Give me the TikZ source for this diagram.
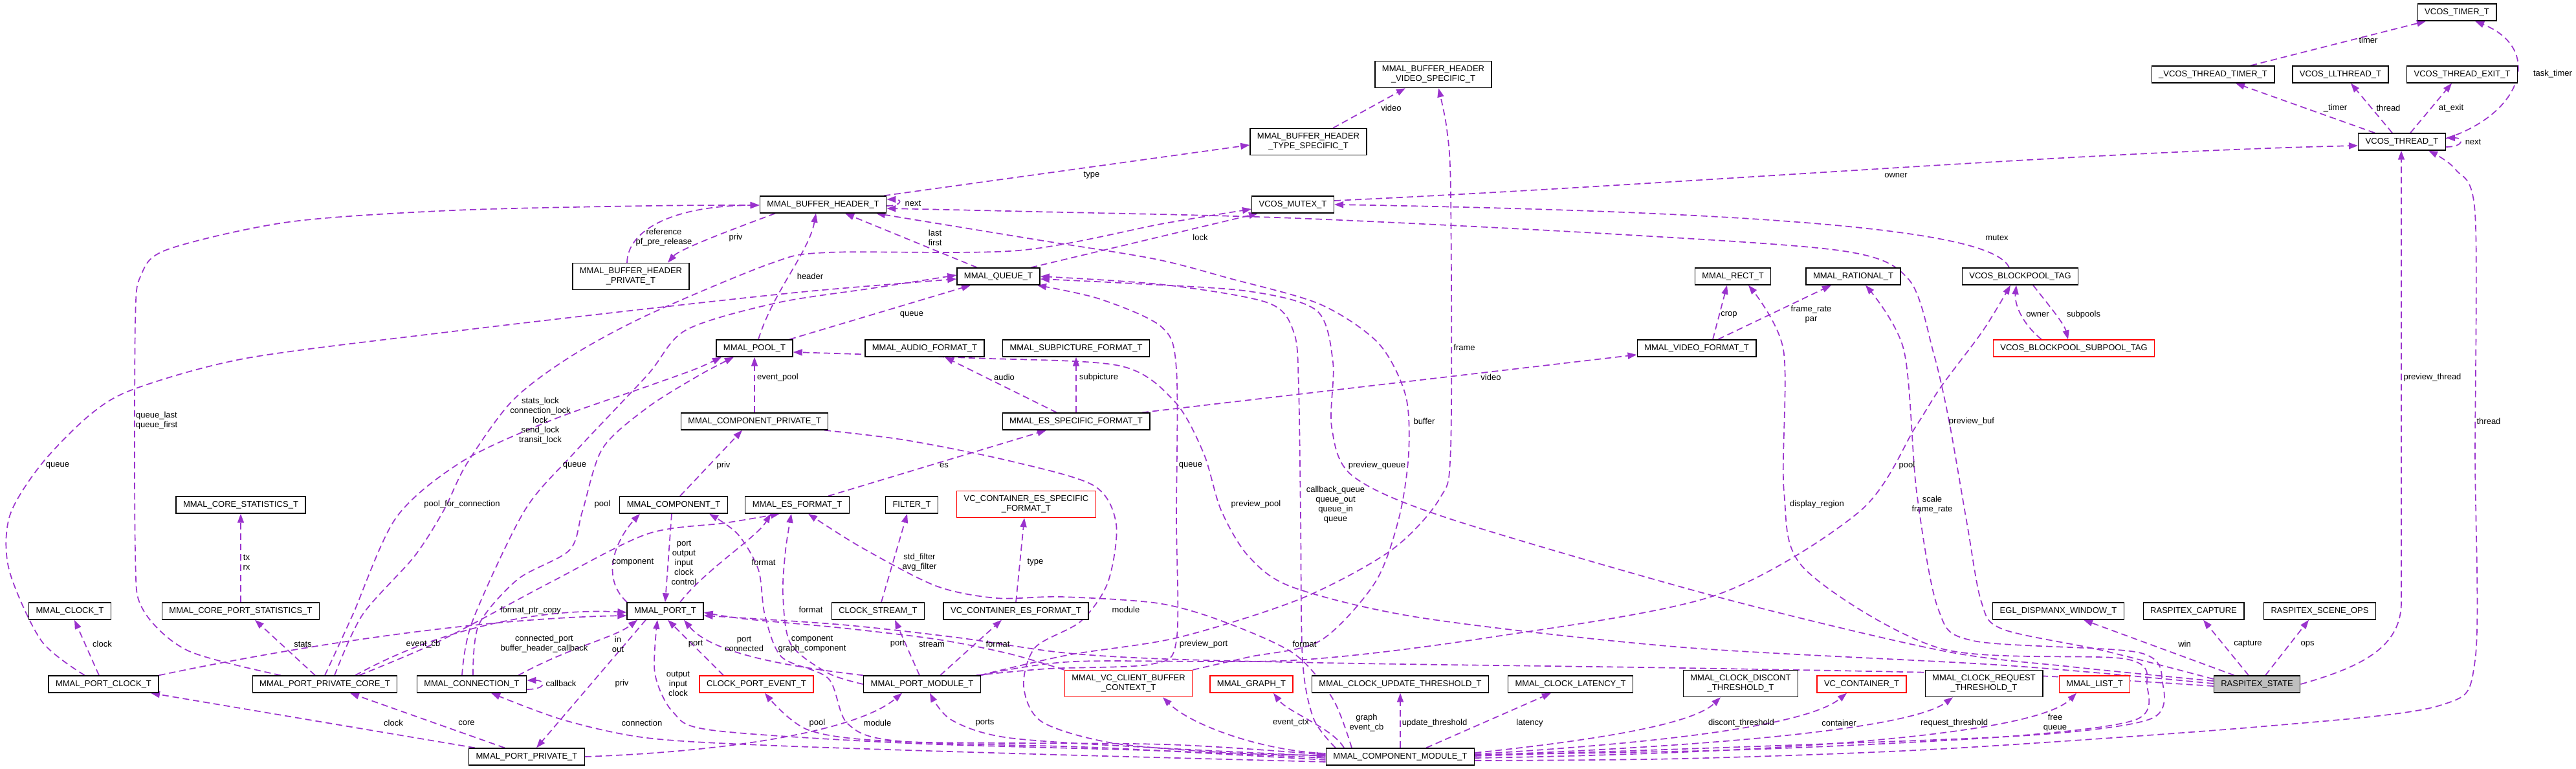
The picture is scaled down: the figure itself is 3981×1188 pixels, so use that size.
\documentclass[tikz,border=0pt]{standalone}
\usepackage{fontspec}
\setmainfont{Liberation Sans}
\usepackage{tikz}
\usetikzlibrary{arrows.meta,backgrounds}
\definecolor{dxpurple}{HTML}{9A32CD}
\definecolor{dxred}{HTML}{FF0000}
\definecolor{dxgrey}{HTML}{BFBFBF}

\begin{document}
\begin{tikzpicture}[x=1pt, y=-1pt, font=\fontsize{13}{15}\selectfont,
  cls/.style={draw=black, line width=1.4pt, fill=white, minimum height=26pt, inner xsep=11pt, inner ysep=2pt},
  cls2/.style={cls, align=center, minimum height=41pt},
  trunc/.style={draw=dxred},
  focus/.style={fill=dxgrey},
  link/.style={draw=dxpurple, line width=1.7pt, dash pattern=on 10pt off 6pt, -{Triangle[length=14pt,width=10pt]}},
  lbl/.style={align=center, inner sep=0pt}]
\useasboundingbox (0,0) rectangle (3981,1188);
% ===== vcos side =====
\node[cls] (vTimer) at (3797,19) {VCOS\_TIMER\_T};
\node[cls] (vThrTimer) at (3420,115) {\_VCOS\_THREAD\_TIMER\_T};
\node[cls] (vLlThr) at (3617,115) {VCOS\_LLTHREAD\_T};
\node[cls] (vThrExit) at (3805,115) {VCOS\_THREAD\_EXIT\_T};
\node[cls] (vThread) at (3712,219) {VCOS\_THREAD\_T};
\node[cls] (vMutex) at (1998,316) {VCOS\_MUTEX\_T};
\node[cls] (vBlk) at (3122,427) {VCOS\_BLOCKPOOL\_TAG};
\node[cls, trunc] (vSub) at (3205,538) {VCOS\_BLOCKPOOL\_SUBPOOL\_TAG};
% ===== buffers, queues =====
\node[cls2] (bhVideo) at (2215,115) {MMAL\_BUFFER\_HEADER\\\_VIDEO\_SPECIFIC\_T};
\node[cls2] (bhType) at (2022,219) {MMAL\_BUFFER\_HEADER\\\_TYPE\_SPECIFIC\_T};
\node[cls] (bh) at (1272,316) {MMAL\_BUFFER\_HEADER\_T};
\node[cls2] (bhPriv) at (975,427) {MMAL\_BUFFER\_HEADER\\\_PRIVATE\_T};
\node[cls] (queue) at (1543,427) {MMAL\_QUEUE\_T};
\node[cls] (rect) at (2678,427) {MMAL\_RECT\_T};
\node[cls] (rational) at (2864,427) {MMAL\_RATIONAL\_T};
% ===== formats =====
\node[cls] (pool) at (1166,538) {MMAL\_POOL\_T};
\node[cls] (audio) at (1429,538) {MMAL\_AUDIO\_FORMAT\_T};
\node[cls] (subpic) at (1663,538) {MMAL\_SUBPICTURE\_FORMAT\_T};
\node[cls] (video) at (2622,538) {MMAL\_VIDEO\_FORMAT\_T};
\node[cls] (compPriv) at (1166,651) {MMAL\_COMPONENT\_PRIVATE\_T};
\node[cls] (esSpec) at (1663,651) {MMAL\_ES\_SPECIFIC\_FORMAT\_T};
\node[cls] (coreStats) at (372,780) {MMAL\_CORE\_STATISTICS\_T};
\node[cls] (comp) at (1041,780) {MMAL\_COMPONENT\_T};
\node[cls] (esFmt) at (1232,780) {MMAL\_ES\_FORMAT\_T};
\node[cls] (filter) at (1409,780) {FILTER\_T};
\node[cls2, trunc] (vcEsSpec) at (1586,779) {VC\_CONTAINER\_ES\_SPECIFIC\\\_FORMAT\_T};
% ===== ports =====
\node[cls] (clock) at (108,944) {MMAL\_CLOCK\_T};
\node[cls] (portStats) at (372,944) {MMAL\_CORE\_PORT\_STATISTICS\_T};
\node[cls] (port) at (1028,944) {MMAL\_PORT\_T};
\node[cls] (clkStream) at (1357,944) {CLOCK\_STREAM\_T};
\node[cls] (vcEsFmt) at (1570,944) {VC\_CONTAINER\_ES\_FORMAT\_T};
\node[cls] (egl) at (3181,944) {EGL\_DISPMANX\_WINDOW\_T};
\node[cls] (capture) at (3390,944) {RASPITEX\_CAPTURE};
\node[cls] (sceneOps) at (3585,944) {RASPITEX\_SCENE\_OPS};
\node[cls] (portClock) at (160,1057) {MMAL\_PORT\_CLOCK\_T};
\node[cls] (portCore) at (502,1057) {MMAL\_PORT\_PRIVATE\_CORE\_T};
\node[cls] (conn) at (729,1057) {MMAL\_CONNECTION\_T};
\node[cls, trunc] (clkEvent) at (1169,1057) {CLOCK\_PORT\_EVENT\_T};
\node[cls] (portMod) at (1425,1057) {MMAL\_PORT\_MODULE\_T};
\node[cls2, trunc] (vcCtx) at (1744,1056) {MMAL\_VC\_CLIENT\_BUFFER\\\_CONTEXT\_T};
\node[cls, trunc] (graph) at (1934,1057) {MMAL\_GRAPH\_T};
\node[cls] (updThr) at (2164,1057) {MMAL\_CLOCK\_UPDATE\_THRESHOLD\_T};
\node[cls] (latency) at (2427,1057) {MMAL\_CLOCK\_LATENCY\_T};
\node[cls2] (discThr) at (2690,1056) {MMAL\_CLOCK\_DISCONT\\\_THRESHOLD\_T};
\node[cls, trunc] (container) at (2877,1057) {VC\_CONTAINER\_T};
\node[cls2] (reqThr) at (3066,1056) {MMAL\_CLOCK\_REQUEST\\\_THRESHOLD\_T};
\node[cls, trunc] (list) at (3237,1057) {MMAL\_LIST\_T};
\node[cls, focus] (state) at (3488,1057) {RASPITEX\_STATE};
\node[cls] (portPriv) at (814,1169) {MMAL\_PORT\_PRIVATE\_T};
\node[cls] (compMod) at (2164,1169) {MMAL\_COMPONENT\_MODULE\_T};

\begin{scope}[on background layer]
% ===== vcos edges =====
\draw[link] ([xshift=58]vThrTimer.north) -- ([xshift=-48]vTimer.south);
\draw[link] ([yshift=5]vThread.east) .. controls (3900,175) and (3930,75) .. ([xshift=28]vTimer.south);
\draw[link] ([xshift=-42]vThread.north) -- ([xshift=35]vThrTimer.south);
\draw[link] ([xshift=-15]vThread.north) -- ([xshift=16]vLlThr.south);
\draw[link] ([xshift=13]vThread.north) -- ([xshift=-16]vThrExit.south);
\draw[link] ([yshift=-8]vThread.east) .. controls +(28,0) and +(28,0) .. ([yshift=6]vThread.east);
\draw[link] ([yshift=6]vMutex.east) .. controls (2600,285) and (3200,235) .. ([yshift=-6]vThread.west);
\draw[link] ([xshift=-17]vBlk.north) .. controls (3085,370) and (2900,330) .. (vMutex.east);
\draw[link] ([xshift=-50]vSub.north) .. controls (3125,500) and (3113,470) .. ([xshift=-6]vBlk.south);
\draw[link] ([xshift=20]vBlk.south) .. controls (3165,470) and (3190,500) .. ([xshift=-9]vSub.north);
\draw[link] (state.east) .. controls (3650,1030) and (3711,1000) .. (3711,930) -- ([xshift=-1]vThread.south);
\draw[link] plot[smooth] coordinates {([yshift=-6]compMod.east) (2600,1172) (3000,1157) (3500,1122) (3770,1090) (3825,1020) (3825,700) (3825,330) (3795,262) ([xshift=41]vThread.south)};

% ===== buffer header edges =====
\draw[link] ([xshift=38]bhType.north) -- ([xshift=-43]bhVideo.south);
\draw[link] ([xshift=94]bh.north) -- ([yshift=-5]bhType.west);
\draw[link] ([yshift=-2]bh.east) .. controls +(24,0) and +(24,0) .. ([yshift=8]bh.east);
\draw[link] ([xshift=-6]bhPriv.north) .. controls (970,355) and (1040,318) .. ([yshift=-1]bh.west);
\draw[link] ([xshift=-74]bh.south) .. controls (1130,355) and (1050,385) .. ([xshift=57]bhPriv.north);
\draw[link] ([xshift=6]pool.north) .. controls (1195,450) and (1250,390) .. ([xshift=-11]bh.south);
\draw[link] ([xshift=-33]queue.north) -- ([xshift=34]bh.south);
\draw[link] ([xshift=50]queue.north) -- ([xshift=-54]vMutex.south);
\draw[link] ([xshift=54]pool.north) -- ([xshift=-43]queue.south);

% ===== format edges =====
\draw[link] (compPriv.north) -- (pool.south);
\draw[link] ([xshift=-30]esSpec.north) -- ([xshift=31]audio.south);
\draw[link] (esSpec.north) -- (subpic.south);
\draw[link] ([xshift=48]esFmt.north) -- ([xshift=-46]esSpec.south);
\draw[link] ([xshift=102]esSpec.north) -- ([yshift=-10]video.west);
\draw[link] ([xshift=25]video.north) -- ([xshift=-9]rect.south);
\draw[link] ([xshift=33]video.north) -- ([xshift=-34]rational.south);
\draw[link] plot[smooth] coordinates {([yshift=3]compMod.east) (2700,1158) (3100,1138) (3300,1112) (3318,1060) (3285,1018) (3000,1002) (2790,880) (2757,760) (2756,540) ([xshift=24]rect.south)};
\draw[link] plot[smooth] coordinates {([yshift=1]compMod.east) (2800,1150) (3150,1135) (3325,1110) (3342,1055) (3305,1008) (3050,990) (2995,940) (2962,760) (2942,540) ([xshift=19]rational.south)};

% ===== raspitex state =====
\draw[link] ([xshift=-35]state.north) -- ([xshift=39]egl.south);
\draw[link] ([xshift=-13]state.north) -- ([xshift=15]capture.south);
\draw[link] ([xshift=13]state.north) -- ([xshift=-17]sceneOps.south);
\draw[link] plot[smooth] coordinates {([yshift=8]state.west) (3250,1005) (3095,972) (3062,930) (3040,810) (3012,650) (2988,545) (2950,432) (2850,388) (2500,362) (2000,337) (1600,327) ([yshift=-6]bh.east)};
\draw[link] plot[smooth] coordinates {([yshift=5]state.west) (3200,1030) (3000,1005) (2650,921) (2236,800) (2090,735) (2058,660) (2060,560) (2035,480) (1930,450) (1750,438) ([yshift=-4]queue.east)};
\draw[link] plot[smooth] coordinates {([yshift=1]state.west) (3100,1028) (2600,1000) (2200,955) (2000,908) (1930,860) (1887,788) (1860,700) (1815,620) (1730,565) (1500,553) ([yshift=-6]pool.east)};
\draw[link] plot[smooth] coordinates {([yshift=-3]state.west) (3100,1042) (2600,1032) (2100,1025) (1800,1018) (1640,1008) (1480,985) (1300,965) ([yshift=-7]port.east)};

% ===== module edges =====
\draw[link] plot[smooth] coordinates {([xshift=-100]compMod.north) (2030,1110) (2013,1020) (2010,800) (2007,600) (2000,515) (1960,468) (1800,440) (queue.east)};
\draw[link] plot[smooth] coordinates {([xshift=-8]portMod.north east) (1620,1033) (1780,1026) (1818,990) (1818,800) (1818,570) (1795,505) (1700,462) ([xshift=60]queue.south)};
\draw[link] plot[smooth] coordinates {(vcCtx.north east) (1930,1015) (2040,990) (2125,900) (2162,800) (2177,700) (2172,610) (2130,530) (2040,470) (1900,430) (1784,400) (1600,370) ([xshift=82]bh.south)};
\draw[link] plot[smooth] coordinates {([xshift=-2]portMod.north east) (1650,1012) (1820,985) (2010,925) (2150,850) (2225,770) (2242,690) (2242,300) (2236,200) ([xshift=8]bhVideo.south)};
\draw[link] plot[smooth] coordinates {(portMod.north east) (1660,1022) (2000,1020) (2300,985) (2650,920) (2874,790) (2960,660) (3000,597) (3065,510) ([xshift=-15]vBlk.south)};
\draw[link] plot[smooth] coordinates {([xshift=108]compPriv.south) (1400,680) (1560,712) (1690,750) (1725,810) (1712,900) (1670,960) (1600,1000) (1582,1060) (1610,1115) (1720,1148) (1900,1163) ([yshift=2]compMod.west)};
\draw[link] plot[smooth] coordinates {(vcCtx.north west) (1560,1010) (1450,988) (1300,970) (1150,956) ([yshift=-2]port.east)};
\draw[link] (portMod.north west) .. controls (1220,1030) and (1100,1010) .. ([xshift=29]port.south);
\draw[link] ([xshift=-51]clkEvent.north) -- ([xshift=4]port.south);
\draw[link] plot[smooth] coordinates {([yshift=-2]compMod.west) (1800,1160) (1400,1148) (1100,1128) (1040,1100) (1012,1040) ([xshift=-12]port.south)};
\draw[link] plot[smooth] coordinates {([yshift=-5]compMod.west) (1700,1155) (1390,1145) (1310,1118) (1280,1048) (1208,1015) (1182,950) (1172,880) (1140,825) ([xshift=55]comp.south)};
\draw[link] ([xshift=23]port.north) .. controls (1090,880) and (1170,830) .. ([xshift=-41]esFmt.south);
\draw[link] plot[smooth] coordinates {([xshift=53]portCore.north) (680,990) (850,900) (1000,825) (1120,808) ([xshift=-27]esFmt.south)};
\draw[link] plot[smooth] coordinates {(portMod.west) (1280,1040) (1222,995) (1210,920) (1214,850) ([xshift=-9]esFmt.south)};
\draw[link] plot[smooth] coordinates {([xshift=-75]compMod.north) (2060,1080) (2000,1010) (1890,960) (1790,932) (1640,922) (1540,924) (1446,905) (1330,845) ([xshift=17]esFmt.south)};
\draw[link] ([xshift=-3]comp.south) -- (port.north);
\draw[link] ([xshift=-59]port.north) .. controls (925,890) and (955,830) .. ([xshift=-52]comp.south);
\draw[link] ([xshift=10]comp.north) -- ([xshift=-19]compPriv.south);
\draw[link] ([xshift=5]clkStream.north) -- ([xshift=-7]filter.south);
\draw[link] (vcEsFmt.north) -- ([xshift=-3]vcEsSpec.south);
\draw[link] ([xshift=-4]portMod.north) -- ([xshift=26]clkStream.south);
\draw[link] ([xshift=28]portMod.north) -- ([xshift=-22]vcEsFmt.south);

% ===== component module fan =====
\draw[link] plot[smooth] coordinates {([yshift=3]compMod.west) (1800,1150) (1400,1146) (1250,1128) ([xshift=13]clkEvent.south)};
\draw[link] plot[smooth] coordinates {([yshift=1]compMod.west) (1800,1156) (1560,1140) (1470,1112) ([xshift=12]portMod.south)};
\draw[link] (portPriv.east) .. controls (1150,1160) and (1330,1125) .. ([xshift=-31]portMod.south);
\draw[link] plot[smooth] coordinates {([yshift=-8]compMod.west) (1600,1165) (1200,1152) (1000,1140) (870,1112) ([xshift=30]conn.south)};
\draw[link] ([yshift=5]compMod.west) .. controls (1950,1160) and (1840,1120) .. ([xshift=53]vcCtx.south);
\draw[link] ([xshift=-87]compMod.north) .. controls (2060,1125) and (1990,1100) .. ([xshift=34]graph.south);
\draw[link] (compMod.north) -- (updThr.south);
\draw[link] ([xshift=40]compMod.north) -- ([xshift=-30]latency.south);
\draw[link] ([yshift=6]compMod.east) .. controls (2500,1140) and (2620,1115) .. ([xshift=-31]discThr.south);
\draw[link] ([yshift=4]compMod.east) .. controls (2620,1145) and (2800,1115) .. ([xshift=-23]container.south);
\draw[link] ([yshift=2]compMod.east) .. controls (2720,1150) and (2960,1120) .. ([xshift=-48]reqThr.south);
\draw[link] ([yshift=-2]compMod.east) .. controls (2820,1162) and (3150,1130) .. ([xshift=-28]list.south);

% ===== port internals =====
\draw[link] plot[smooth] coordinates {([xshift=-29]portClock.north) (64,990) (14,880) (15,797) (64,717) (140,640) (210,600) (383,553) (700,512) (1000,477) (1250,450) ([yshift=-4]queue.west)};
\draw[link] ([xshift=-7]portClock.north) -- ([xshift=7]clock.south);
\draw[link] (portClock.north east) .. controls (500,990) and (760,955) .. ([yshift=-7]port.west);
\draw[link] ([xshift=47]portCore.north) .. controls (700,960) and (860,940) .. ([yshift=-2]port.west);
\draw[link] ([xshift=-15]portCore.north) -- ([xshift=22]portStats.south);
\draw[link] (portStats.north) -- (coreStats.south);
\draw[link] plot[smooth] coordinates {([xshift=-68]portCore.north) (290,1005) (220,940) (209,850) (209,500) (218,425) (260,385) (446,343) (700,325) (1000,318) ([yshift=-1]bh.west)};
\draw[link] plot[smooth] coordinates {([xshift=15]portCore.north) (560,950) (640,860) (686,788) (721,717) (791,620) (880,552) (1000,487) (1191,407) (1280,390) (1574,387) (1800,345) ([yshift=-7]vMutex.west)};
\draw[link] plot[smooth] coordinates {(portCore.north) (545,950) (612,800) (714,713) (850,650) (1000,597) (1075,570) ([xshift=-51]pool.south)};
\draw[link] ([yshift=-8]conn.east) .. controls +(30,0) and +(30,0) .. ([yshift=6]conn.east);
\draw[link] ([xshift=72]conn.north) .. controls (880,1000) and (950,985) .. ([xshift=-43]port.south);
\draw[link] plot[smooth] coordinates {([xshift=2]conn.north) (740,965) (800,895) (880,850) (900,790) (931,693) (1000,630) (1080,580) ([xshift=-32]pool.south)};
\draw[link] plot[smooth] coordinates {([xshift=-15]conn.north) (730,960) (810,790) (887,700) (1000,580) (1060,510) (1200,468) (1350,445) ([yshift=2]queue.west)};
\draw[link] ([xshift=-34]portPriv.north) -- ([xshift=39]portCore.south);
\draw[link] ([xshift=-80]portPriv.north) -- ([xshift=73]portClock.south);
\draw[link] ([xshift=-30]port.south) -- ([xshift=15]portPriv.north);
\end{scope}

% ===== edge labels =====
\node[lbl] (lb1) at (3660,62) {timer};
\node[lbl] (lb2) at (3945,114) {task\_timer};
\node[lbl] (lb3) at (3609,167) {\_timer};
\node[lbl] (lb4) at (3691,167) {thread};
\node[lbl] (lb5) at (3788,167) {at\_exit};
\node[lbl] (lb6) at (3822,219) {next};
\node[lbl] (lb7) at (2930,271) {owner};
\node[lbl] (lb8) at (3086,367) {mutex};
\node[lbl] (lb9) at (2150,167) {video};
\node[lbl] (lb10) at (1687,271) {type};
\node[lbl] (lb11) at (1411,314) {next};
\node[lbl] (lb12) at (1026,367) {reference\\pf\_pre\_release};
\node[lbl] (lb13) at (1137,367) {priv};
\node[lbl] (lb14) at (1445,367) {last\\first};
\node[lbl] (lb15) at (1855,367) {lock};
\node[lbl] (lb16) at (1252,427) {header};
\node[lbl] (lb17) at (1409,486) {queue};
\node[lbl] (lb18) at (2672,486) {crop};
\node[lbl] (lb19) at (2799,486) {frame\_rate\\par};
\node[lbl] (lb20) at (3149,486) {owner};
\node[lbl] (lb21) at (3220,486) {subpools};
\node[lbl] (lb22) at (2263,537) {frame};
\node[lbl] (lb23) at (1202,583) {event\_pool};
\node[lbl] (lb24) at (1552,583) {audio};
\node[lbl] (lb25) at (1698,583) {subpicture};
\node[lbl] (lb26) at (2304,583) {video};
\node[lbl] (lb27) at (3759,583) {preview\_thread};
\node[lbl] (lb28) at (242,650) {queue\_last\\queue\_first};
\node[lbl] (lb29) at (835,650) {stats\_lock\\connection\_lock\\lock\\send\_lock\\transit\_lock};
\node[lbl] (lb30) at (2201,651) {buffer};
\node[lbl] (lb31) at (3047,651) {preview\_buf};
\node[lbl] (lb32) at (3846,651) {thread};
\node[lbl] (lb33) at (89,719) {queue};
\node[lbl] (lb34) at (888,719) {queue};
\node[lbl] (lb35) at (1118,719) {priv};
\node[lbl] (lb36) at (1459,719) {es};
\node[lbl] (lb37) at (1840,719) {queue};
\node[lbl] (lb38) at (2128,719) {preview\_queue};
\node[lbl] (lb39) at (2947,719) {pool};
\node[lbl] (lb40) at (2064,780) {callback\_queue\\queue\_out\\queue\_in\\queue};
\node[lbl] (lb41) at (2986,780) {scale\\frame\_rate};
\node[lbl] (lb42) at (714,779) {pool\_for\_connection};
\node[lbl] (lb43) at (931,779) {pool};
\node[lbl] (lb44) at (1941,779) {preview\_pool};
\node[lbl] (lb45) at (2808,779) {display\_region};
\node[lbl] (lb46) at (1057,869) {port\\output\\input\\clock\\control};
\node[lbl] (lb47) at (978,869) {component};
\node[lbl] (lb48) at (1180,869) {format};
\node[lbl] (lb49) at (381,869) {tx\\rx};
\node[lbl] (lb50) at (1421,869) {std\_filter\\avg\_filter};
\node[lbl] (lb51) at (1600,869) {type};
\node[lbl] (lb52) at (820,943) {format\_ptr\_copy};
\node[lbl] (lb53) at (1253,942) {format};
\node[lbl] (lb54) at (1740,942) {module};
\node[lbl] (lb55) at (158,995) {clock};
\node[lbl] (lb56) at (468,995) {stats};
\node[lbl] (lb57) at (654,995) {event\_cb};
\node[lbl] (lb58) at (841,995) {connected\_port\\buffer\_header\_callback};
\node[lbl] (lb59) at (955,995) {in\\out};
\node[lbl] (lb60) at (1075,995) {port};
\node[lbl] (lb61) at (1150,995) {port\\connected};
\node[lbl] (lb62) at (1255,995) {component\\graph\_component};
\node[lbl] (lb63) at (1387,995) {port};
\node[lbl] (lb64) at (1440,995) {stream};
\node[lbl] (lb65) at (1542,995) {format};
\node[lbl] (lb66) at (1860,995) {preview\_port};
\node[lbl] (lb67) at (2016,995) {format};
\node[lbl] (lb68) at (3376,995) {win};
\node[lbl] (lb69) at (3474,995) {capture};
\node[lbl] (lb70) at (3566,995) {ops};
\node[lbl] (lb71) at (1048,1056) {output\\input\\clock};
\node[lbl] (lb72) at (867,1056) {callback};
\node[lbl] (lb73) at (961,1056) {priv};
\node[lbl] (lb74) at (608,1117) {clock};
\node[lbl] (lb75) at (721,1117) {core};
\node[lbl] (lb76) at (992,1117) {connection};
\node[lbl] (lb77) at (1263,1117) {pool};
\node[lbl] (lb78) at (1356,1117) {module};
\node[lbl] (lb79) at (1522,1117) {ports};
\node[lbl] (lb80) at (1995,1117) {event\_ctx};
\node[lbl] (lb81) at (2112,1117) {graph\\event\_cb};
\node[lbl] (lb82) at (2217,1117) {update\_threshold};
\node[lbl] (lb83) at (2364,1117) {latency};
\node[lbl] (lb84) at (2691,1117) {discont\_threshold};
\node[lbl] (lb85) at (2842,1117) {container};
\node[lbl] (lb86) at (3020,1117) {request\_threshold};
\node[lbl] (lb87) at (3176,1117) {free\\queue};
\end{tikzpicture}
\end{document}
